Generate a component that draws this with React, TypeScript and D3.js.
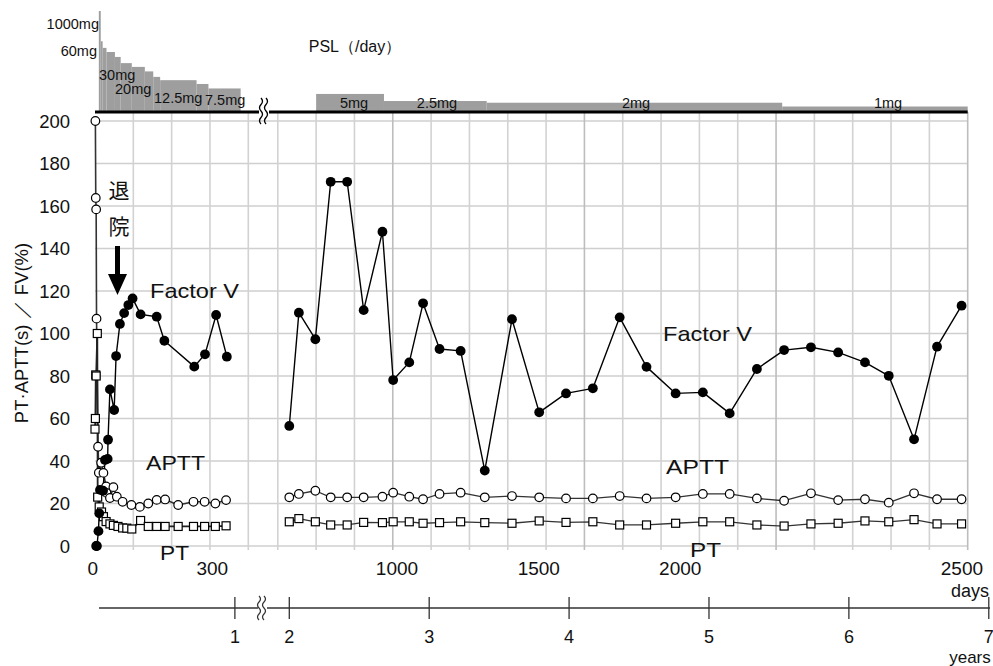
import React from 'react';
import * as d3 from 'd3';

// ---------- data ----------
const fvLeftDays = [3, 5, 9, 11, 13, 21, 26, 33, 34, 39, 50, 55, 65, 76, 87, 98, 119, 161, 181, 259, 287, 316, 344];
const fvLeftVals = [0, 0, 7, 15.4, 26.4, 26, 40.5, 41, 50, 73.7, 64, 89.4, 104.5, 109.6, 113.4, 116.5, 109, 107.9, 96.6, 84.4, 90.2, 108.7, 89.1];

const apttLeftDays = [1, 2, 3, 4, 8, 10, 16, 22, 29, 30, 39, 48, 57, 72, 95, 117, 139, 161, 183, 217, 257, 286, 314, 342];
const apttLeftVals = [200, 163.8, 158.4, 107, 46.7, 34.5, 39.2, 34.4, 28, 25, 22.6, 27.7, 23.2, 20.8, 19.3, 18.4, 20, 21.7, 21.9, 19.3, 20.8, 20.8, 20, 21.6];

const ptLeftDays = [0, 1, 2, 3, 6, 7, 11, 17, 22, 29, 39, 48, 60, 72, 83, 96, 119, 139, 161, 183, 217, 257, 286, 314, 342];
const ptLeftVals = [55, 60, 80.5, 80, 100, 23, 18.4, 16, 13.8, 11.5, 10.4, 9.7, 9.2, 8.5, 8.4, 8, 12, 9.2, 9.2, 9.2, 9.2, 9.2, 9.2, 9.2, 9.5];

const rightDays = [730, 755, 798, 838, 881, 924, 973, 1001, 1043, 1079, 1122, 1177, 1240, 1311, 1382, 1452, 1522, 1592, 1662, 1738, 1809, 1879, 1950, 2021, 2091, 2162, 2232, 2294, 2360, 2420, 2484];
const fvRightVals = [56.5, 109.8, 97.3, 171.4, 171.4, 111, 147.9, 78.1, 86.4, 114.2, 92.7, 91.8, 35.5, 106.7, 62.9, 71.8, 74.2, 107.6, 84.3, 71.8, 72.3, 62.4, 83.3, 92.2, 93.5, 91.1, 86.4, 80.1, 50.2, 93.8, 113.1];
const apttRightVals = [22.9, 24.5, 26, 22.9, 22.9, 22.9, 23.2, 25.1, 23.2, 22, 24.5, 25.1, 22.9, 23.5, 22.9, 22.4, 22.4, 23.5, 22.4, 22.9, 24.5, 24.5, 22.4, 21.3, 24.8, 21.6, 22, 20.4, 24.8, 22, 22];
const ptRightVals = [11.4, 12.9, 11.4, 9.9, 9.9, 11.1, 11.0, 11.4, 11.4, 10.7, 11.0, 11.4, 11.0, 10.7, 11.8, 11.1, 11.4, 9.9, 9.9, 10.7, 11.4, 11.4, 9.9, 9.4, 10.4, 10.7, 11.8, 11.4, 12.4, 10.4, 10.4];

// PSL dose steps (mg/day)
const pslStart = [10, 15, 20, 30, 52, 67, 96, 130, 152, 170, 265, 296, 800, 977, 1245, 2016];
const pslEnd = [15, 20, 30, 52, 67, 96, 130, 152, 170, 265, 296, 380, 977, 1245, 2016, 2500];
const pslDose = [1000, 80, 60, 50, 40, 30, 25, 20, 15, 12.5, 10, 7.5, 5, 2.5, 2, 1];

const yTicks = [0, 20, 40, 60, 80, 100, 120, 140, 160, 180, 200];
const gridDaysLeft = [100, 200, 300, 400];
const gridDaysRight = d3.range(700, 2501, 100);
const dayLabels = ['0', '300', '1000', '1500', '2000', '2500'];
const dayLabelAt = [-6, 306, 1011, 1381, 1750, 2485];
const years = [1, 2, 3, 4, 5, 6, 7];

// ---------- scales ----------
const xLeft = d3.scaleLinear().domain([0, 400]).range([95, 248.3]);
const xRight = d3.scaleLinear().domain([700, 2500]).range([277.8, 967.7]);
const xDay = (d: number) => (d <= 550 ? xLeft(d) : xRight(d));
const y = d3.scaleLinear().domain([0, 200]).range([546, 121]);
const pslY = d3.scaleSymlog().constant(5).domain([0, 286]).range([111, 11]).clamp(true);

const FONT = "'Liberation Sans', Arial, Helvetica, sans-serif";

const lineGen = d3
  .line<[number, number]>()
  .x((p) => xDay(p[0]))
  .y((p) => y(p[1]));

const zip = (a: number[], b: number[]) => a.map((d, i) => [d, b[i]] as [number, number]);

const fvL = zip(fvLeftDays, fvLeftVals);
const fvR = zip(rightDays, fvRightVals);
const apL = zip(apttLeftDays, apttLeftVals);
const apR = zip(rightDays, apttRightVals);
const ptL = zip(ptLeftDays, ptLeftVals);
const ptR = zip(rightDays, ptRightVals);

const wavy = (x: number, y0: number, h: number) => {
  const s = h / 4;
  return `M${x},${y0} q3,${s / 2} 0,${s} q-3,${s / 2} 0,${s} q3,${s / 2} 0,${s} q-3,${s / 2} 0,${s}`;
};

export default function App() {
  const plotLeft = xLeft(0);
  const plotRight = xRight(2500);
  const yearY = 608;
  return (
    <svg
      width={993}
      height={666}
      style={{ position: 'absolute', left: 0, top: 0, background: '#fff' }}
      fontFamily={FONT}
    >
      <rect x={0} y={0} width={993} height={666} fill="#fff" />
      {/* horizontal grid */}
      {yTicks.map((t) => (
        <line key={'h' + t} x1={plotLeft} x2={plotRight} y1={y(t)} y2={y(t)} stroke="#cfcfcf" strokeWidth={1.6} />
      ))}
      {/* vertical grid */}
      {[...gridDaysLeft, ...gridDaysRight].map((d) => (
        <line
          key={'v' + d}
          x1={xDay(d)}
          x2={xDay(d)}
          y1={112}
          y2={550}
          stroke={d % 500 === 0 ? '#bdbdbd' : '#d2d2d2'}
          strokeWidth={1.6}
        />
      ))}

      {/* PSL steps */}
      {pslDose.map((dose, i) => (
        <rect
          key={'p' + i}
          x={xDay(pslStart[i])}
          width={xDay(pslEnd[i]) - xDay(pslStart[i])}
          y={pslY(dose)}
          height={pslY(0) - pslY(dose)}
          fill="#9e9e9e"
        />
      ))}
      <line x1={plotLeft} x2={plotRight} y1={112} y2={112} stroke="#000" strokeWidth={3.2} />
      {/* break on top axis */}
      <rect x={259} y={104} width={10} height={16} fill="#fff" />
      <path d={wavy(261, 98, 26)} fill="none" stroke="#000" strokeWidth={1.3} />
      <path d={wavy(266, 98, 26)} fill="none" stroke="#000" strokeWidth={1.3} />

      {/* PSL labels */}
      <g fontSize={14.5} fill="#111">
        <text x={99} y={29} textAnchor="end">1000mg</text>
        <text x={97} y={55.5} textAnchor="end">60mg</text>
        <text x={99} y={80}>30mg</text>
        <text x={115} y={94}>20mg</text>
        <text x={154} y={103}>12.5mg</text>
        <text x={205} y={105}>7.5mg</text>
        <text x={354} y={108} textAnchor="middle">5mg</text>
        <text x={437} y={108} textAnchor="middle">2.5mg</text>
        <text x={636} y={108} textAnchor="middle">2mg</text>
        <text x={888} y={108} textAnchor="middle">1mg</text>
      </g>
      <text x={355} y={52} fontSize={16} textAnchor="middle" fill="#111">PSL（/day）</text>

      {/* series lines */}
      <g fill="none" strokeLinejoin="round">
        <path d={lineGen(apL) || ''} stroke="#333" strokeWidth={1.6} />
        <path d={lineGen(apR) || ''} stroke="#333" strokeWidth={1.3} />
        <path d={lineGen(ptL) || ''} stroke="#222" strokeWidth={1.8} />
        <path d={lineGen(ptR) || ''} stroke="#333" strokeWidth={1.3} />
        <path d={lineGen(fvL) || ''} stroke="#000" strokeWidth={1.4} />
        <path d={lineGen(fvR) || ''} stroke="#000" strokeWidth={1.4} />
      </g>

      {/* markers */}
      {[...ptL, ...ptR].map((p, i) => (
        <rect
          key={'s' + i}
          x={xDay(p[0]) - 4}
          y={y(p[1]) - 4}
          width={8}
          height={8}
          fill="#fff"
          stroke="#000"
          strokeWidth={1.2}
        />
      ))}
      {[...apL, ...apR].map((p, i) => (
        <circle key={'o' + i} cx={xDay(p[0])} cy={y(p[1])} r={4.3} fill="#fff" stroke="#000" strokeWidth={1.2} />
      ))}
      {[...fvL, ...fvR].map((p, i) => (
        <circle key={'f' + i} cx={xDay(p[0])} cy={y(p[1])} r={4.9} fill="#000" />
      ))}

      {/* series labels */}
      <g fontSize={21} fill="#111">
        <text x={150} y={298} textLength={89} lengthAdjust="spacingAndGlyphs">Factor V</text>
        <text x={663} y={341} textLength={89} lengthAdjust="spacingAndGlyphs">Factor V</text>
        <text x={146} y={470} textLength={59} lengthAdjust="spacingAndGlyphs">APTT</text>
        <text x={666} y={474} textLength={63} lengthAdjust="spacingAndGlyphs">APTT</text>
        <text x={160} y={560} textLength={29} lengthAdjust="spacingAndGlyphs">PT</text>
        <text x={690} y={557} textLength={31} lengthAdjust="spacingAndGlyphs">PT</text>
      </g>

      {/* discharge annotation */}
      <g fontSize={21} fill="#111" textAnchor="middle" fontFamily="'Noto Sans CJK JP', sans-serif">
        <text x={119} y={198}>退</text>
        <text x={119} y={234}>院</text>
      </g>
      <path d="M115,246 h5 v28 h7 l-9.5,21 l-9.5,-21 h7 z" fill="#000" />

      {/* y axis labels */}
      <g fontSize={18.5} fill="#111" textAnchor="end">
        {yTicks.map((t) => (
          <text key={'yl' + t} x={70} y={y(t) + 6.5}>{t}</text>
        ))}
      </g>
      <text
        transform="translate(28,333) rotate(-90)"
        textAnchor="middle"
        fontSize={18.5}
        fill="#111"
      >
        PT·APTT(s) ／ FV(%)
      </text>

      {/* day labels */}
      <g fontSize={19} fill="#111" textAnchor="middle">
        {dayLabels.map((l, i) => (
          <text key={'dl' + l} x={xDay(dayLabelAt[i])} y={575}>{l}</text>
        ))}
        <text x={970} y={597} fontSize={18}>days</text>
      </g>

      {/* year axis */}
      <line x1={99} x2={990} y1={yearY} y2={yearY} stroke="#333" strokeWidth={1.5} />
      {years.map((yr) => (
        <g key={'yr' + yr}>
          <line x1={xDay(yr * 365)} x2={xDay(yr * 365)} y1={yearY - 11} y2={yearY + 11} stroke="#333" strokeWidth={1.3} />
          <text x={xDay(yr * 365)} y={643} fontSize={18} textAnchor="middle" fill="#111">{yr}</text>
        </g>
      ))}
      <rect x={258} y={603} width={9} height={10} fill="#fff" />
      <path d={wavy(259, 596, 24)} fill="none" stroke="#333" strokeWidth={1.2} />
      <path d={wavy(264, 596, 24)} fill="none" stroke="#333" strokeWidth={1.2} />
      <text x={970} y={663} fontSize={17} textAnchor="middle" fill="#111">years</text>
    </svg>
  );
}
